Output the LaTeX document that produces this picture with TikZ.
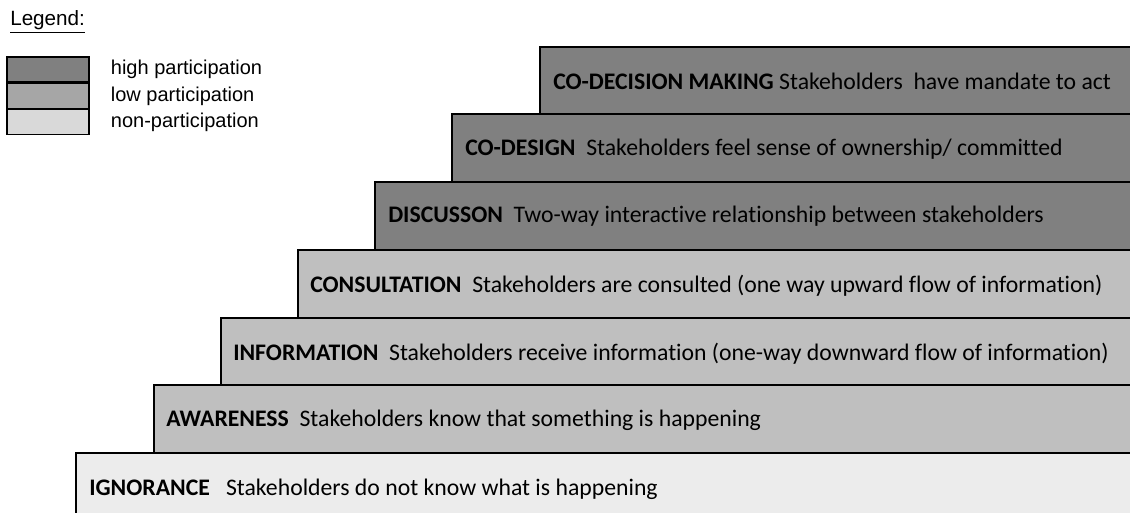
\documentclass[tikz,border=0pt]{standalone}
\usepackage{fontspec}
\setmainfont{Carlito}[Ligatures=NoCommon]
\newfontfamily\legendfont{Liberation Sans}
\usetikzlibrary{positioning}
\definecolor{highpart}{gray}{0.50}
\definecolor{lowpart}{gray}{0.75}
\definecolor{nonpart}{gray}{0.925}
\definecolor{keylow}{gray}{0.65}
\definecolor{keynon}{gray}{0.85}
\tikzset{stepbox/.style = {draw=black, line width=2pt},
         steptext/.style = {anchor=base west, inner sep=0pt,
                            font=\fontsize{17.8}{21}\selectfont},
         keybox/.style = {draw=black, line width=1pt, inner sep=0pt,
                          minimum width=61.5pt, minimum height=18.75pt},
         keytext/.style = {inner sep=0pt, font=\legendfont\fontsize{15}{17}\selectfont}}

\begin{document}
\begin{tikzpicture}[x=0.75pt, y=-0.75pt]
  \useasboundingbox (0,0) rectangle (1130,513);
  \clip (0,0) rectangle (1130,513);

  % steps of the ladder, top one first
  \foreach \sx/\stop/\sbot/\scol in {540/47/114/highpart, 452/114/182/highpart,
                                     375/182/250/highpart, 298/250/318/lowpart,
                                     221/318/385/lowpart, 154/385/453/lowpart,
                                     76/453/530/nonpart}
    \draw [stepbox, fill=\scol] (\sx,\stop) rectangle (1145,\sbot);

  \node [steptext] (codecision) at (553,90) {\textbf{CO-DECISION MAKING} Stakeholders\ \ have mandate to act};
  \node [steptext] (codesign) at (465,156) {\textbf{CO-DESIGN}\ \ Stakeholders feel sense of ownership/ committed};
  \node [steptext] (discussion) at (388,223) {\textbf{DISCUSSON}\ \ Two-way interactive relationship between stakeholders};
  \node [steptext] (consultation) at (310,292) {\textbf{CONSULTATION}\ \ Stakeholders are consulted (one way upward flow of information)};
  \node [steptext] (information) at (233,360) {\textbf{INFORMATION}\ \ Stakeholders receive information (one-way downward flow of information)};
  \node [steptext] (awareness) at (166,426) {\textbf{AWARENESS}\ \ Stakeholders know that something is happening};
  \node [steptext] (ignorance) at (89,495) {\textbf{IGNORANCE}\ \ \ Stakeholders do not know what is happening};

  % legend
  \node [keytext, anchor=base west, font=\legendfont\fontsize{15.5}{17}\selectfont] (legend) at (10,26) {\underline{Legend:}};
  \node [keybox, fill=highpart] (keyhigh) at (48,69.5) {};
  \node [keybox, fill=keylow, below=0pt of keyhigh] (keylow) {};
  \node [keybox, fill=keynon, below=0pt of keylow] (keynon) {};
  \node [keytext, right=15.75pt of keyhigh] {high participation};
  \node [keytext, right=15.75pt of keylow] {low participation};
  \node [keytext, right=15.75pt of keynon] {non-participation};
\end{tikzpicture}
\end{document}
